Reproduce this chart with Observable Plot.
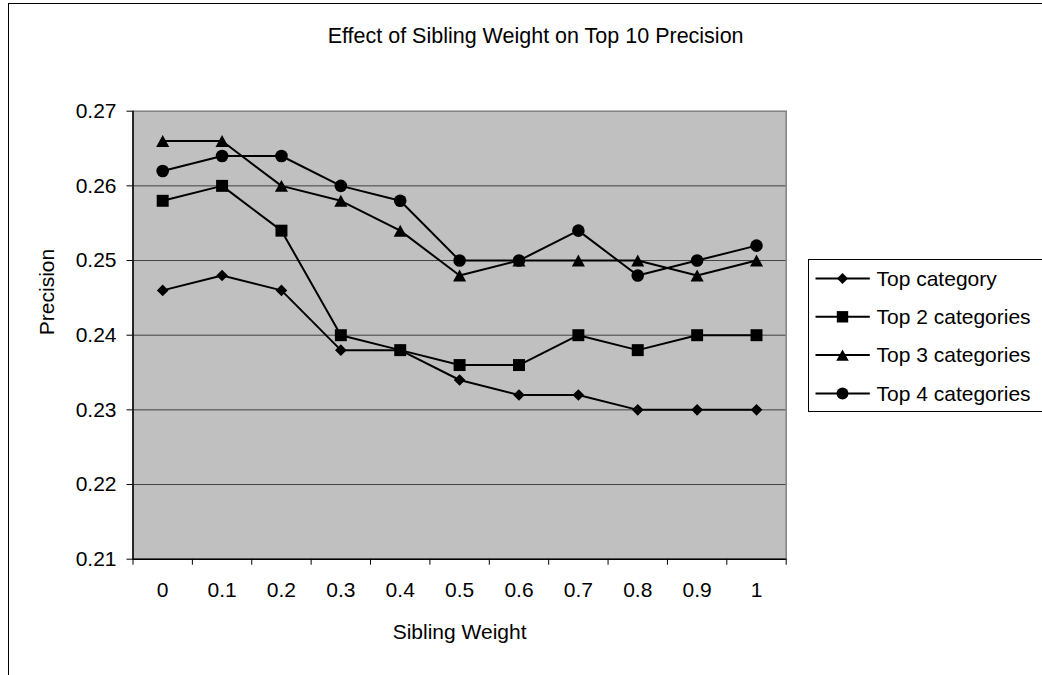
<!DOCTYPE html>
<html><head><meta charset="utf-8">
<script src="https://cdn.jsdelivr.net/npm/d3@7"></script>
<script src="https://cdn.jsdelivr.net/npm/@observablehq/plot@0.6"></script>
<style>
body{margin:0;background:#fff;}
#wrap{position:relative;width:1042px;height:675px;overflow:hidden;font-family:"Liberation Sans",Arial,sans-serif;}
#border{position:absolute;left:8px;top:3px;width:1100px;height:800px;border:1px solid #000;box-sizing:border-box;}
#chart{position:absolute;left:0;top:0;}
#legend{position:absolute;left:807.5px;top:259px;}
</style></head><body>
<div id="wrap"><div id="border"></div><div id="chart"></div><div id="legend"></div></div>
<script>
// ---- data ----
const weights = [0, 0.1, 0.2, 0.3, 0.4, 0.5, 0.6, 0.7, 0.8, 0.9, 1];
const seriesNames = ["Top category", "Top 2 categories", "Top 3 categories", "Top 4 categories"];
const topCategory = [0.246, 0.248, 0.246, 0.238, 0.238, 0.234, 0.232, 0.232, 0.230, 0.230, 0.230];
const top2Categories = [0.258, 0.260, 0.254, 0.240, 0.238, 0.236, 0.236, 0.240, 0.238, 0.240, 0.240];
const top3Categories = [0.266, 0.266, 0.260, 0.258, 0.254, 0.248, 0.250, 0.250, 0.250, 0.248, 0.250];
const top4Categories = [0.262, 0.264, 0.264, 0.260, 0.258, 0.250, 0.250, 0.254, 0.248, 0.250, 0.252];
const yTicks = [0.21, 0.22, 0.23, 0.24, 0.25, 0.26, 0.27];
const titleText = "Effect of Sibling Weight on Top 10 Precision";
const xLabel = "Sibling Weight";
const yLabel = "Precision";

const seriesValues = [topCategory, top2Categories, top3Categories, top4Categories];
const rows = seriesNames.flatMap((s, i) => weights.map((w, j) => ({series: s, weight: w, value: seriesValues[i][j]})));

// category band boundaries (Excel ticks between categories)
const half = (weights[1] - weights[0]) / 2;
const xBounds = [weights[0] - half, ...weights.slice(1).map((w, i) => (w + weights[i]) / 2), weights[weights.length - 1] + half];

// custom marker shapes
const diamondSym = {draw(ctx, size) { const r = Math.sqrt(size / Math.PI), a = r * 0.92; ctx.moveTo(0, -a); ctx.lineTo(a, 0); ctx.lineTo(0, a); ctx.lineTo(-a, 0); ctx.closePath(); }};
const squareSym = {draw(ctx, size) { const r = Math.sqrt(size / Math.PI) * 0.95; ctx.rect(-r, -r, 2 * r, 2 * r); }};
const triangleSym = {draw(ctx, size) { const r = Math.sqrt(size / Math.PI), w = r * 1.04, h = r * 0.95; ctx.moveTo(0, -h); ctx.lineTo(w, h); ctx.lineTo(-w, h); ctx.closePath(); }};
const circleSym = {draw(ctx, size) { const r = Math.sqrt(size / Math.PI); ctx.moveTo(r, 0); ctx.arc(0, 0, r, 0, 2 * Math.PI); }};
const symbols = [diamondSym, squareSym, triangleSym, circleSym];

const font = '"Liberation Sans", Arial, sans-serif';
const markerR = 6.3;

const seriesMarks = seriesNames.flatMap(s => {
  const d = rows.filter(r => r.series === s);
  return [
    Plot.line(d, {x: "weight", y: "value", stroke: "#000", strokeWidth: 2}),
    Plot.dot(d, {x: "weight", y: "value", symbol: "series", r: markerR, fill: "#000", stroke: "none"})
  ];
});

const plot = Plot.plot({
  width: 1042, height: 675,
  marginLeft: 132.5, marginRight: 256.3, marginTop: 110.7, marginBottom: 116.3,
  style: {fontFamily: font, fontSize: "21px", color: "#000", background: "transparent"},
  x: {type: "linear", domain: [xBounds[0], xBounds[xBounds.length - 1]]},
  y: {domain: [yTicks[0], yTicks[yTicks.length - 1]]},
  symbol: {domain: seriesNames, range: symbols},
  marks: [
    Plot.frame({fill: "#c0c0c0"}),
    Plot.gridY(yTicks.slice(1, -1), {stroke: "#404040", strokeOpacity: 1, strokeWidth: 1}),
    Plot.frame({stroke: "#808080", strokeWidth: 1.5}),
    Plot.ruleX([xBounds[0]], {stroke: "#000", strokeWidth: 1.5}),
    Plot.ruleY([yTicks[0]], {stroke: "#000", strokeWidth: 1.5}),
    Plot.axisY({ticks: yTicks, tickFormat: d3.format(".2f"), tickSize: 6, tickPadding: 10.5, label: null}),
    Plot.axisX({ticks: xBounds, tickFormat: () => "", tickSize: 6, label: null}),
    Plot.axisX({ticks: weights, tickFormat: d => String(d), tickSize: 0, tickPadding: 23, label: null}),
    ...seriesMarks,
    Plot.text([titleText], {text: d => d, frameAnchor: "top", dx: 76, dy: -68, lineAnchor: "bottom", fontSize: 21.5}),
    Plot.text([xLabel], {text: d => d, frameAnchor: "bottom", dy: 79.6, lineAnchor: "bottom"}),
    Plot.text([yLabel], {text: d => d, frameAnchor: "left", rotate: -90, dx: -79, lineAnchor: "bottom"})
  ]
});
document.getElementById("chart").appendChild(plot);

// legend
const lg = d3.select("#legend").append("svg").attr("width", 300).attr("height", 153)
  .style("font-family", font).style("font-size", "21px");
lg.append("rect").attr("x", 0.5).attr("y", 0.5).attr("width", 298).attr("height", 152)
  .attr("fill", "#fff").attr("stroke", "#000").attr("stroke-width", 1);
seriesNames.forEach((s, i) => {
  const cy = 19.5 + i * 38.3;
  const g = lg.append("g");
  g.append("line").attr("x1", 7.5).attr("x2", 61.8).attr("y1", cy).attr("y2", cy).attr("stroke", "#000").attr("stroke-width", 2);
  g.append("path").attr("transform", `translate(34.5,${cy})`).attr("d", d3.symbol(symbols[i], Math.PI * 36)()).attr("fill", "#000");
  g.append("text").attr("x", 68.5).attr("y", cy).attr("dy", "0.35em").text(s);
});
</script>
</body></html>
